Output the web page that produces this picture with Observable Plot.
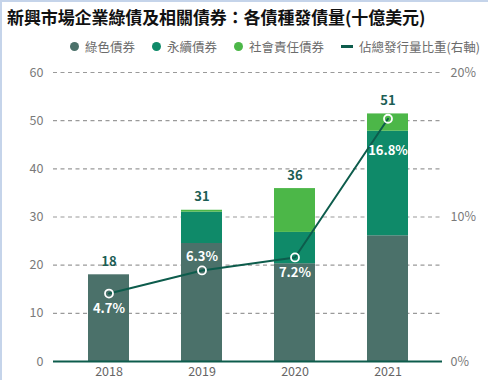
<!DOCTYPE html>
<html><head><meta charset="utf-8">
<script src="https://cdn.jsdelivr.net/npm/d3@7"></script>
<script src="https://cdn.jsdelivr.net/npm/@observablehq/plot@0.6"></script>
<style>
html,body{margin:0;padding:0;background:#fff;}
#wrap{position:relative;width:488px;height:380px;box-sizing:border-box;border-left:2px solid #c5d4ea;border-top:2px solid #c5d4ea;overflow:hidden;font-family:"Noto Sans CJK TC","Noto Sans",sans-serif;}
#title{position:absolute;left:5px;top:2px;font-size:17px;font-weight:600;color:#111;white-space:nowrap;letter-spacing:-0.1px;}
#legend{position:absolute;right:8px;top:35px;font-size:12.5px;color:#6b6b6b;white-space:nowrap;display:flex;align-items:center;}
#legend .it{display:flex;align-items:center;margin-left:17px;}
#legend .dot{width:9px;height:9px;border-radius:50%;margin-right:6px;display:inline-block;}
#legend .dash{width:12px;height:3px;margin-right:6px;display:inline-block;}
#chart{position:absolute;left:-2px;top:50px;}
</style></head>
<body><div id="wrap">
<div id="title">新興市場企業綠債及相關債券：各債種發債量(十億美元)</div>
<div id="legend"></div>
<div id="chart"></div>
</div>
<script>
const years = ["2018","2019","2020","2021"];
const seriesNames = ["綠色債券","永續債券","社會責任債券"];
const green = [18, 24.5, 20.3, 26.1];
const sustain = [0, 6.5, 6.5, 21.7];
const social = [0, 0.4, 9.1, 3.6];
const totalLabels = [18, 31, 36, 51];
const sharePct = [4.7, 6.3, 7.2, 16.8];
const lineName = "佔總發行量比重(右軸)";
const leftTicks = [0,10,20,30,40,50,60];
const rightTicks = [0,10,20];

const colors = ["#4b716a","#0f8a69","#4cb748"];
const lineColor = "#0d5c4c";

// legend
const lg = document.getElementById("legend");
seriesNames.forEach((n,i)=>{
  lg.insertAdjacentHTML("beforeend",`<span class="it"><span class="dot" style="background:${colors[i]}"></span>${n}</span>`);
});
lg.insertAdjacentHTML("beforeend",`<span class="it"><span class="dash" style="background:${lineColor}"></span>${lineName}</span>`);

const stackData = [];
years.forEach((y,i)=>{
  stackData.push({year:y, s:seriesNames[0], v:green[i]});
  stackData.push({year:y, s:seriesNames[1], v:sustain[i]});
  stackData.push({year:y, s:seriesNames[2], v:social[i]});
});
const totals = years.map((y,i)=>({year:y, total: green[i]+sustain[i]+social[i], label: totalLabels[i]}));
const scale = 60/20; // right axis: 20% maps to 60
const line = years.map((y,i)=>({year:y, p: sharePct[i], v: sharePct[i]*scale}));
const below = line.filter(d=>d.year!=="2019" && d.year!=="2021");

const chart = Plot.plot({
  width: 488, height: 330,
  marginTop: 20, marginBottom: 21, marginLeft: 53, marginRight: 46,
  style: {fontFamily: '"Noto Sans CJK TC","Noto Sans",sans-serif', background: "transparent"},
  x: {domain: years, paddingInner: 0.56, paddingOuter: 0.35, label: null},
  y: {domain: [0,60], label: null},
  color: {domain: seriesNames, range: colors},
  marks: [
    Plot.ruleY(leftTicks.filter(d=>d>0), {stroke:"#9a9a9a", strokeDasharray:"4,3.5", strokeWidth:1.2}),
    Plot.barY(stackData, {x:"year", y:"v", fill:"s", order: seriesNames}),
    Plot.ruleY([0], {stroke: lineColor, strokeWidth: 2}),
    Plot.axisY(leftTicks, {anchor:"left", tickSize:0, tickPadding:10, fontSize:12.5, color:"#7a7a7a", label:null}),
    Plot.axisY(rightTicks.map(d=>d*scale), {anchor:"right", tickSize:0, tickPadding:8, fontSize:12.5, color:"#7a7a7a", tickFormat: d=> (d/scale)+"%", label:null}),
    Plot.axisX({tickSize:0, tickPadding:6, fontSize:12.5, color:"#666", label:null}),
    Plot.text(totals, {x:"year", y:"total", text:"label", dy:-13, fill:"#1c5e55", fontSize:13, fontWeight:"bold"}),
    Plot.line(line, {x:"year", y:"v", stroke: lineColor, strokeWidth: 2}),
    Plot.dot(line, {x:"year", y:"v", r:4, stroke:"#fff", strokeWidth:1.8, fill:"none"}),
    Plot.text(below, {x:"year", y:"v", text: d=>d.p.toFixed(1)+"%", dy:15, fill:"#fff", fontSize:13, fontWeight:600}),
    Plot.text(line.filter(d=>d.year==="2019"), {x:"year", y:"v", text: d=>d.p.toFixed(1)+"%", dy:-14, fill:"#fff", fontSize:13, fontWeight:600}),
    Plot.text(line.filter(d=>d.year==="2021"), {x:"year", y:"v", text: d=>d.p.toFixed(1)+"%", dy:32, fill:"#fff", fontSize:13, fontWeight:600})
  ]
});
document.getElementById("chart").appendChild(chart);
</script>
</body></html>
